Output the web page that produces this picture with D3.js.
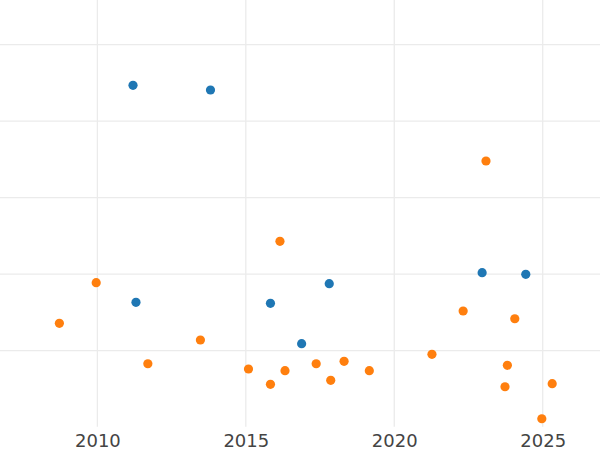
<!DOCTYPE html>
<html>
<head>
<meta charset="utf-8">
<script src="https://cdn.jsdelivr.net/npm/d3@7"></script>
<style>
  html, body { margin: 0; padding: 0; background: #fff; }
  svg { display: block; }
</style>
</head>
<body>
<svg id="chart" width="600" height="450"></svg>
<script>
const xTicks = [2010, 2015, 2020, 2025];
const yTicks = [0, 1, 2, 3, 4];

const seriesAYears = [2011.20, 2013.81, 2011.30, 2015.83, 2016.88, 2017.81, 2022.96, 2024.43];
const seriesAValues = [3.469, 3.408, 0.633, 0.620, 0.092, 0.876, 1.020, 0.999];

const seriesBYears = [2008.72, 2009.96, 2011.70, 2013.47, 2015.09, 2015.83, 2016.32, 2016.15, 2017.37, 2017.86,
                      2018.31, 2019.16, 2021.27, 2022.32, 2023.09, 2023.81, 2023.73, 2024.06, 2024.97, 2025.32];
const seriesBValues = [0.358, 0.889, -0.170, 0.140, -0.239, -0.439, -0.261, 1.430, -0.170, -0.387,
                       -0.139, -0.261, -0.047, 0.519, 2.480, -0.191, -0.471, 0.418, -0.889, -0.431];

const colors = ["#1f77b4", "#ff7f0e"];

const svg = d3.select("#chart");
const W = 600, H = 450;
const plot = { left: 0, right: 600, top: 0, bottom: 426.7 };

const x = d3.scaleLinear().domain([2006.72, 2026.93]).range([plot.left, plot.right]);
const y = d3.scaleLinear().domain([-0.993, 4.584]).range([plot.bottom, plot.top]);

// grid
const grid = svg.append("g");
grid.selectAll("line.v").data(xTicks).enter().append("line")
  .attr("x1", d => x(d)).attr("x2", d => x(d))
  .attr("y1", plot.top).attr("y2", plot.bottom)
  .attr("stroke", "#ebebeb").attr("stroke-width", 1.3);
grid.selectAll("line.h").data(yTicks).enter().append("line")
  .attr("x1", plot.left).attr("x2", plot.right)
  .attr("y1", d => y(d)).attr("y2", d => y(d))
  .attr("stroke", "#ebebeb").attr("stroke-width", 1.3);

// x axis labels
const xAxis = d3.axisBottom(x).tickValues(xTicks).tickFormat(d3.format("d")).tickSize(0).tickPadding(0);
const gx = svg.append("g").attr("transform", `translate(0,${plot.bottom})`).call(xAxis);
gx.select(".domain").remove();
gx.selectAll("text")
  .attr("y", 20)
  .attr("dy", 0)
  .attr("font-family", "DejaVu Sans, sans-serif")
  .attr("font-size", 18)
  .attr("fill", "#444");

// points
const seriesList = [
  { years: seriesAYears, values: seriesAValues, color: colors[0] },
  { years: seriesBYears, values: seriesBValues, color: colors[1] }
];
seriesList.forEach(s => {
  svg.append("g").selectAll("circle")
    .data(s.years.map((yr, i) => [yr, s.values[i]]))
    .enter().append("circle")
    .attr("cx", d => x(d[0]))
    .attr("cy", d => y(d[1]))
    .attr("r", 4.6)
    .attr("fill", s.color);
});
</script>
</body>
</html>
